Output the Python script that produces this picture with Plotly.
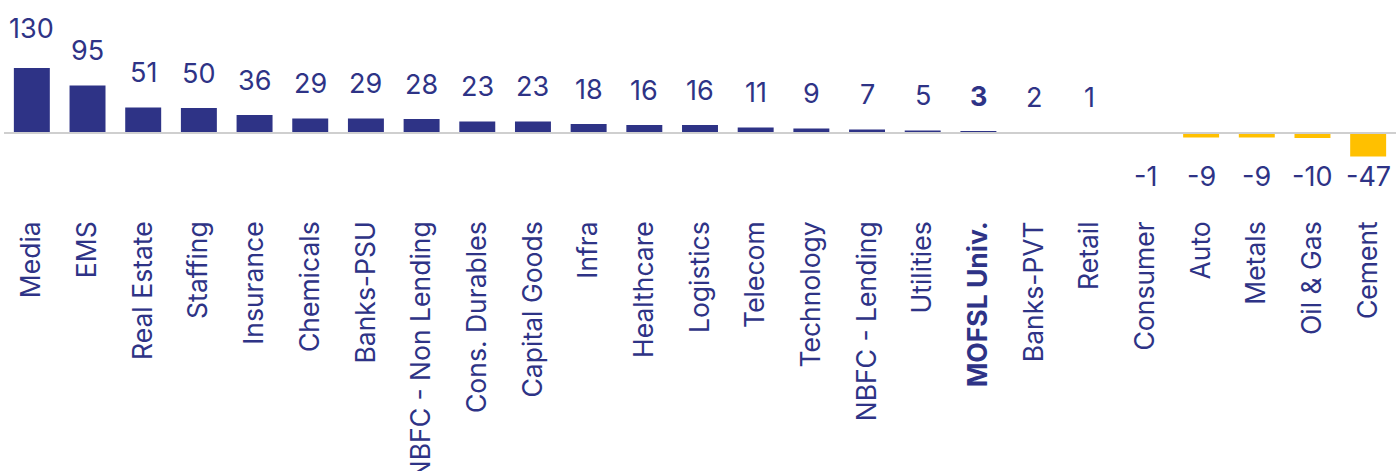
import plotly.graph_objects as go

# Sector values
sectors = ["Media", "EMS", "Real Estate", "Staffing", "Insurance", "Chemicals",
           "Banks-PSU", "NBFC - Non Lending", "Cons. Durables", "Capital Goods",
           "Infra", "Healthcare", "Logistics", "Telecom", "Technology",
           "NBFC - Lending", "Utilities", "MOFSL Univ.", "Banks-PVT", "Retail",
           "Consumer", "Auto", "Metals", "Oil & Gas", "Cement"]
values = [130, 95, 51, 50, 36, 29, 29, 28, 23, 23, 18, 16, 16, 11, 9, 7,
          5, 3, 2, 1, -1, -9, -9, -10, -47]
highlight = "MOFSL Univ."

NAVY = "#2E3386"
GOLD = "#FFC000"
FONT = "Inter"

bar_colors = [NAVY if v >= 0 else GOLD for v in values]
tick_text = [f"<b>{s}</b>" if s == highlight else s for s in sectors]

fig = go.Figure()
fig.add_trace(go.Bar(
    x=sectors, y=values, marker_color=bar_colors, marker_line_width=0,
    hoverinfo="x+y",
))

# Value labels: above positive bars, on a common baseline below the axis for negatives
for s, v in zip(sectors, values):
    txt = f"<b>{v}</b>" if s == highlight else str(v)
    if v >= 0:
        fig.add_annotation(x=s, y=v, text=txt, showarrow=False,
                           yanchor="middle", yshift=40 if v > 100 else 35,
                           font=dict(family=FONT, size=27, color=NAVY))
    else:
        fig.add_annotation(x=s, y=-86, text=txt, showarrow=False,
                           yanchor="middle",
                           font=dict(family=FONT, size=27, color=NAVY))

# Baseline drawn over the bars
fig.add_shape(type="line", xref="paper", yref="y", x0=0, x1=1, y0=0, y1=0,
              line=dict(color="#CFCFCF", width=2), layer="above")

fig.update_layout(
    width=1396, height=471,
    margin=dict(l=4, r=0, t=0, b=259, autoexpand=False),
    plot_bgcolor="white", paper_bgcolor="white",
    bargap=0.354,
    showlegend=False,
    font=dict(family=FONT, color=NAVY),
)
fig.update_xaxes(
    tickmode="array", tickvals=sectors, ticktext=tick_text,
    tickangle=-90, tickfont=dict(family=FONT, size=26.5, color=NAVY),
    ticklabelstandoff=3, automargin=False,
    showgrid=False, showline=False, ticks="", zeroline=False,
)
fig.update_yaxes(
    range=[-158, 266], showgrid=False, showticklabels=False, ticks="",
    zeroline=False, showline=False, automargin=False,
)

fig.write_html("out.html")
